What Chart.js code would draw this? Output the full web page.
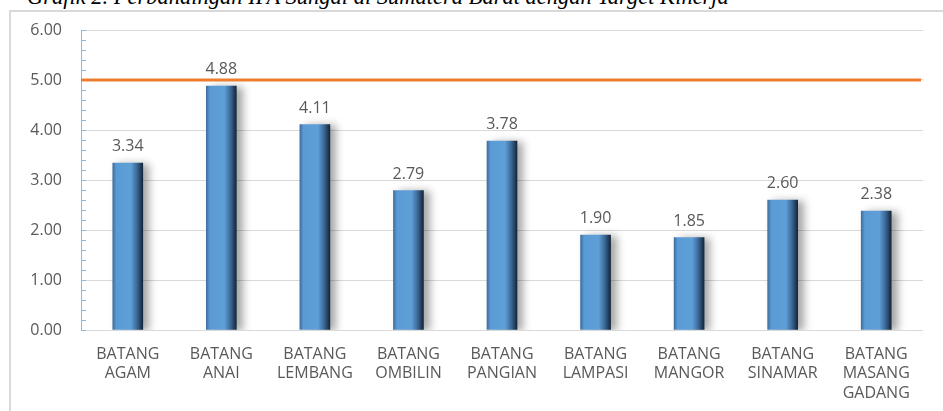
<!DOCTYPE html>
<html>
<head>
<meta charset="utf-8">
<script src="https://cdn.jsdelivr.net/npm/chart.js@4/dist/chart.umd.min.js"></script>
<style>
  html, body { margin: 0; padding: 0; background: #fff; overflow: hidden; }
  body { width: 943px; height: 411px; position: relative; }
  .title {
    position: absolute; left: 27px; top: -16px;
    font-family: "Liberation Serif", "DejaVu Serif", serif;
    font-style: italic; font-size: 22.5px; color: #000; white-space: nowrap;
  }
  .frame {
    position: absolute; left: 9px; top: 10px; width: 960px; height: 430px;
    border: 2px solid #d9d9d9; box-sizing: border-box;
  }
  canvas { position: absolute; left: 0; top: 0; }
</style>
</head>
<body>
<div class="title">Grafik 2. Perbandingan IPA Sungai di Sumatera Barat dengan Target Kinerja</div>
<div class="frame"></div>
<canvas id="chart" width="943" height="411"></canvas>
<script>
const categories = [
  ["BATANG", "AGAM"],
  ["BATANG", "ANAI"],
  ["BATANG", "LEMBANG"],
  ["BATANG", "OMBILIN"],
  ["BATANG", "PANGIAN"],
  ["BATANG", "LAMPASI"],
  ["BATANG", "MANGOR"],
  ["BATANG", "SINAMAR"],
  ["BATANG", "MASANG", "GADANG"]
];
const ipaValues = [3.34, 4.88, 4.11, 2.79, 3.78, 1.90, 1.85, 2.60, 2.38];
const targetValue = 5.00;
const yTicks = [0, 1, 2, 3, 4, 5, 6];

const font = "'Open Sans', 'Noto Sans', sans-serif";
const textColor = "#595959";
const barWidth = 30;

// cylinder-like shading across each bar
function barGradient(context) {
  const chart = context.chart;
  const xScale = chart.scales.x;
  if (!xScale || context.dataIndex === undefined) return "#5b9bd5";
  const center = xScale.getPixelForValue(context.dataIndex);
  if (!Number.isFinite(center)) return "#5b9bd5";
  const left = center - barWidth / 2;
  const g = chart.ctx.createLinearGradient(left, 0, left + barWidth, 0);
  g.addColorStop(0, "#3e6f9f");
  g.addColorStop(0.12, "#5b9bd5");
  g.addColorStop(0.6, "#5f9fd8");
  g.addColorStop(0.8, "#3c6a98");
  g.addColorStop(1, "#14263a");
  return g;
}

// bar shadow, target line, minor ticks and value labels
const decorPlugin = {
  id: "decor",
  beforeDatasetDraw(chart) {
    const ctx = chart.ctx;
    ctx.save();
    ctx.shadowColor = "rgba(0,0,0,0.35)";
    ctx.shadowBlur = 8;
    ctx.shadowOffsetX = 6;
    ctx.shadowOffsetY = 1;
  },
  afterDatasetDraw(chart) {
    chart.ctx.restore();
  },
  afterDatasetsDraw(chart) {
    const ctx = chart.ctx;
    const area = chart.chartArea;
    const y = chart.scales.y;

    // minor ticks on the value axis
    ctx.save();
    ctx.strokeStyle = "#8fb8e0";
    ctx.lineWidth = 1;
    for (let i = 0; i <= 30; i++) {
      const py = Math.round(y.getPixelForValue(i / 5)) + 0.5;
      ctx.beginPath();
      ctx.moveTo(area.left, py);
      ctx.lineTo(area.left + 5, py);
      ctx.stroke();
    }
    ctx.beginPath();
    ctx.moveTo(area.left + 0.5, area.top);
    ctx.lineTo(area.left + 0.5, area.bottom);
    ctx.stroke();
    ctx.restore();

    // target line
    const ty = y.getPixelForValue(targetValue);
    ctx.save();
    ctx.strokeStyle = "#ed7d31";
    ctx.lineWidth = 3;
    ctx.beginPath();
    ctx.moveTo(area.left, ty);
    ctx.lineTo(area.right - 2, ty);
    ctx.stroke();
    ctx.restore();

    // value labels
    ctx.save();
    ctx.font = "16px " + font;
    ctx.fillStyle = textColor;
    ctx.textAlign = "center";
    ctx.textBaseline = "alphabetic";
    chart.getDatasetMeta(0).data.forEach((bar, i) => {
      ctx.fillText(ipaValues[i].toFixed(2), bar.x, bar.y - 12);
    });
    ctx.restore();
  }
};

new Chart(document.getElementById("chart"), {
  type: "bar",
  data: {
    labels: categories,
    datasets: [{
      data: ipaValues,
      backgroundColor: barGradient,
      borderWidth: 0,
      barThickness: barWidth
    }]
  },
  options: {
    responsive: false,
    animation: false,
    layout: { padding: { left: 0, right: 20, top: 30, bottom: 0 } },
    plugins: {
      legend: { display: false },
      tooltip: { enabled: false }
    },
    scales: {
      y: {
        min: 0,
        max: 6,
        afterFit(scale) { scale.width = 81; },
        afterBuildTicks(scale) { scale.ticks = yTicks.map((v) => ({ value: v })); },
        border: { display: false },
        grid: { color: "#d9d9d9", drawTicks: false },
        ticks: {
          padding: 19,
          color: textColor,
          font: { family: font, size: 16 },
          callback: (v) => Number(v).toFixed(2)
        }
      },
      x: {
        afterFit(scale) { scale.height = 81; },
        border: { display: false },
        grid: { display: false },
        ticks: {
          maxRotation: 0,
          autoSkip: false,
          padding: 7,
          color: textColor,
          font: { family: font, size: 16, lineHeight: 1.2 }
        }
      }
    }
  },
  plugins: [decorPlugin]
});
</script>
</body>
</html>
